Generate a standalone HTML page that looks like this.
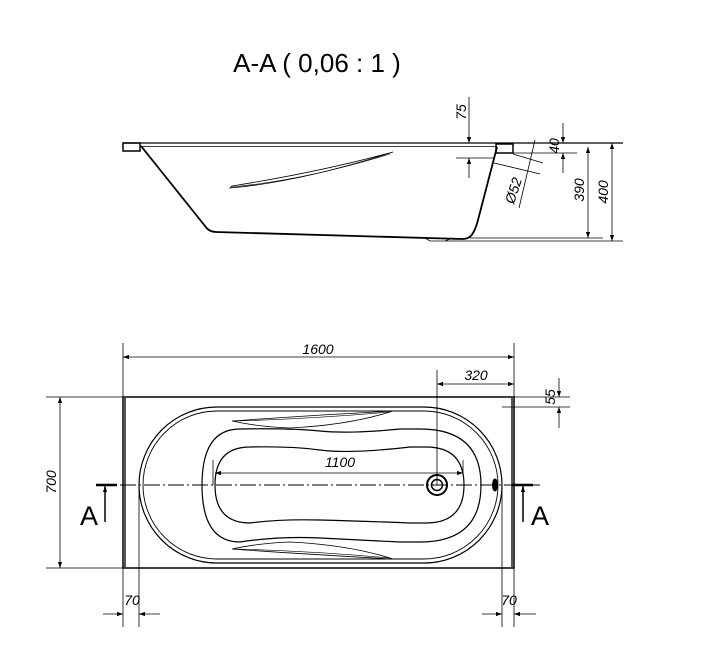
<!DOCTYPE html>
<html><head><meta charset="utf-8"><style>
html,body{margin:0;padding:0;background:#fff;}
svg{display:block;}
text{font-family:"Liberation Sans",sans-serif;fill:#000;}
</style></head><body>
<svg width="716" height="648" viewBox="0 0 716 648" xmlns="http://www.w3.org/2000/svg">
<defs>
<marker id="ar" viewBox="0 0 10 10" refX="10" refY="5" markerWidth="8" markerHeight="6" orient="auto-start-reverse" markerUnits="userSpaceOnUse"><path d="M0,1.5 L10,5 L0,8.5 z" fill="#000"/></marker>
</defs>
<text x="317" y="72" font-size="26" text-anchor="middle">A-A ( 0,06 : 1 )</text>

<!-- Section view -->
<g stroke="#000" fill="none">
<line x1="123" y1="143" x2="623" y2="143" stroke-width="1.2"/>
<line x1="140" y1="146.5" x2="497" y2="146.5" stroke-width="0.8"/>
<rect x="123" y="143" width="17" height="8" stroke-width="1.5"/>
<rect x="496" y="144" width="17" height="9" stroke-width="1.5"/>
<path d="M141,146 L205,226 Q209,232 216,232 L462,239 Q470,239 473,233 Q476,228 478,220 L497,147" stroke-width="1.8"/>
<path d="M425,238 L430,241 L445,241 L450,239" stroke-width="0.8"/>
<line x1="445" y1="241" x2="623" y2="241" stroke-width="0.8"/>
<line x1="470" y1="238" x2="603" y2="238" stroke-width="0.8"/>
<path d="M230,188 Q300,182 393,152 Q320,172 232,186 Z" stroke-width="0.8"/>
<path d="M232,187 Q305,180 390,154" stroke-width="0.6"/>
<line x1="588" y1="147" x2="588" y2="238" stroke-width="0.8" marker-start="url(#ar)" marker-end="url(#ar)"/>
<line x1="612" y1="143" x2="612" y2="241" stroke-width="0.8" marker-start="url(#ar)" marker-end="url(#ar)"/>
<line x1="469" y1="97" x2="469" y2="143" stroke-width="0.8" marker-end="url(#ar)"/>
<line x1="469" y1="178" x2="469" y2="158" stroke-width="0.8" marker-end="url(#ar)"/>
<line x1="456" y1="158" x2="495" y2="158" stroke-width="0.8"/>
<line x1="563" y1="123" x2="563" y2="143" stroke-width="0.8" marker-end="url(#ar)"/>
<line x1="563" y1="173" x2="563" y2="153" stroke-width="0.8" marker-end="url(#ar)"/>
<line x1="513" y1="153" x2="577" y2="153" stroke-width="0.8"/>
<line x1="513" y1="154" x2="543" y2="163" stroke-width="0.8"/>
<line x1="494" y1="163" x2="540" y2="174" stroke-width="0.8"/>
<line x1="535" y1="140" x2="519" y2="208" stroke-width="0.8"/>
</g>
<text font-size="14" font-style="italic" transform="translate(466,112) rotate(-90)" text-anchor="middle">75</text>
<text font-size="14" font-style="italic" transform="translate(559,146) rotate(-90)" text-anchor="middle">40</text>
<text font-size="14" font-style="italic" transform="translate(584,190) rotate(-90)" text-anchor="middle">390</text>
<text font-size="14" font-style="italic" transform="translate(608,192) rotate(-90)" text-anchor="middle">400</text>
<text font-size="14" font-style="italic" transform="translate(518,192) rotate(-72)" text-anchor="middle">Ø52</text>

<!-- Top view -->
<g stroke="#000" fill="none">
<rect x="123" y="397" width="391" height="171" stroke-width="1.5"/>
<line x1="125" y1="398" x2="125" y2="567" stroke-width="2" stroke="#555"/>
<line x1="512" y1="398" x2="512" y2="567" stroke-width="2" stroke="#555"/>
<rect x="139" y="407" width="363" height="156" rx="78" ry="78" stroke-width="1.2"/>
<rect x="143" y="411" width="355" height="148" rx="74" ry="74" stroke-width="0.9"/>
<path d="M240,429 Q290,428 320,431 T400,429 L420,429 Q481,429 481,485 Q481,542 420,542 L400,542 Q360,540 320,538 T240,542 Q202,542 202,485 Q202,429 240,429 Z" stroke-width="1.2"/>
<path d="M250,447 Q290,446 320,450 T410,447 L426,447 Q464,447 464,485 Q464,523 426,523 L410,523 Q360,521 320,520 T250,523 Q215,523 215,485 Q215,447 250,447 Z" stroke-width="1.2"/>
<path d="M232,421 Q300,416 393,411 Q350,425 290,428 Q260,427 232,421 Z" stroke-width="0.8"/>
<path d="M234,421 Q310,419 390,412" stroke-width="0.6"/>
<path d="M232,549 Q300,554 393,559 Q350,545 290,542 Q260,543 232,549 Z" stroke-width="0.8"/>
<path d="M234,549 Q310,551 390,558" stroke-width="0.6"/>
<circle cx="437" cy="485" r="10" stroke-width="2"/>
<circle cx="437" cy="485" r="5.5" stroke-width="1.5"/>
<ellipse cx="495" cy="485" rx="2.5" ry="6" fill="#000"/>
<line x1="96" y1="485" x2="540" y2="485" stroke-width="0.9" stroke-dasharray="16,3,2,3"/>
<line x1="96" y1="485" x2="117" y2="485" stroke-width="2.5"/>
<line x1="512" y1="485" x2="533" y2="485" stroke-width="2.5"/>
<line x1="105" y1="522" x2="105" y2="486" stroke-width="1.5" marker-end="url(#ar)"/>
<line x1="523" y1="522" x2="523" y2="486" stroke-width="1.5" marker-end="url(#ar)"/>
<line x1="123" y1="343" x2="123" y2="397" stroke-width="0.8"/>
<line x1="514" y1="343" x2="514" y2="397" stroke-width="0.8"/>
<line x1="123" y1="357" x2="514" y2="357" stroke-width="0.8" marker-start="url(#ar)" marker-end="url(#ar)"/>
<line x1="437" y1="370" x2="437" y2="485" stroke-width="0.8"/>
<line x1="437" y1="384" x2="514" y2="384" stroke-width="0.8" marker-start="url(#ar)" marker-end="url(#ar)"/>
<line x1="514" y1="397" x2="570" y2="397" stroke-width="0.8"/>
<line x1="502" y1="407" x2="570" y2="407" stroke-width="0.8"/>
<line x1="559" y1="378" x2="559" y2="397" stroke-width="0.8" marker-end="url(#ar)"/>
<line x1="559" y1="428" x2="559" y2="407" stroke-width="0.8" marker-end="url(#ar)"/>
<line x1="46" y1="397" x2="123" y2="397" stroke-width="0.8"/>
<line x1="46" y1="568" x2="123" y2="568" stroke-width="0.8"/>
<line x1="60" y1="397" x2="60" y2="568" stroke-width="0.8" marker-start="url(#ar)" marker-end="url(#ar)"/>
<line x1="213" y1="460" x2="213" y2="485" stroke-width="0.8"/>
<line x1="463" y1="460" x2="463" y2="473" stroke-width="0.8"/>
<line x1="215" y1="473" x2="463" y2="473" stroke-width="0.8" marker-start="url(#ar)" marker-end="url(#ar)"/>
<line x1="123" y1="568" x2="123" y2="627" stroke-width="0.8"/>
<line x1="139" y1="485" x2="139" y2="627" stroke-width="0.8"/>
<line x1="103" y1="614" x2="123" y2="614" stroke-width="0.8" marker-end="url(#ar)"/>
<line x1="160" y1="614" x2="139" y2="614" stroke-width="0.8" marker-end="url(#ar)"/>
<line x1="514" y1="568" x2="514" y2="627" stroke-width="0.8"/>
<line x1="502" y1="485" x2="502" y2="627" stroke-width="0.8"/>
<line x1="482" y1="614" x2="502" y2="614" stroke-width="0.8" marker-end="url(#ar)"/>
<line x1="536" y1="614" x2="514" y2="614" stroke-width="0.8" marker-end="url(#ar)"/>
</g>
<text x="318" y="354" font-size="14" font-style="italic" text-anchor="middle">1600</text>
<text x="476" y="380" font-size="14" font-style="italic" text-anchor="middle">320</text>
<text x="340" y="467" font-size="14" font-style="italic" text-anchor="middle">1100</text>
<text x="132" y="605" font-size="14" font-style="italic" text-anchor="middle">70</text>
<text x="509" y="605" font-size="14" font-style="italic" text-anchor="middle">70</text>
<text font-size="14" font-style="italic" transform="translate(555,397) rotate(-90)" text-anchor="middle">55</text>
<text font-size="14" font-style="italic" transform="translate(56,482) rotate(-90)" text-anchor="middle">700</text>
<text x="89" y="525" font-size="27" text-anchor="middle">A</text>
<text x="540" y="525" font-size="27" text-anchor="middle">A</text>
</svg>
</body></html>
